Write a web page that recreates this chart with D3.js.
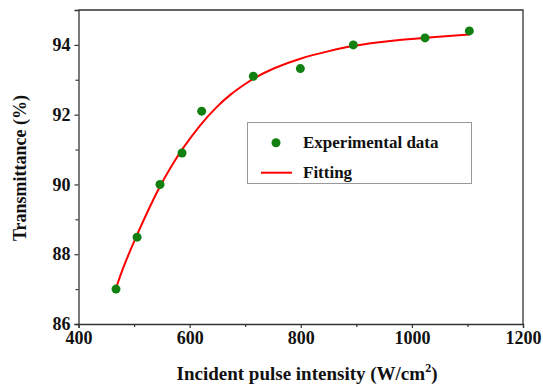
<!DOCTYPE html>
<html>
<head>
<meta charset="utf-8">
<script src="https://cdn.jsdelivr.net/npm/d3@7"></script>
<style>
  html, body { margin: 0; padding: 0; background: #fff; }
  svg { display: block; }
  svg text { font-family: "Liberation Serif", "Times New Roman", serif !important; font-weight: bold; fill: #111; }
</style>
</head>
<body>
<div id="chart"></div>
<script>
// Experimental data points
const expX = [467.5, 505.5, 546.7, 586.3, 621.7, 714.7, 799.3, 894.6, 1023.7, 1103.4];
const expY = [87.0, 88.49, 90.0, 90.9, 92.1, 93.1, 93.32, 94.0, 94.2, 94.4];
// Fitted curve samples
const fitX = [467, 480, 505, 525, 547, 570, 586, 619, 650, 673, 700, 715, 750, 799, 850, 895, 950, 1024, 1104];
const fitY = [87.0, 87.62, 88.55, 89.25, 89.97, 90.6, 91.0, 91.72, 92.25, 92.58, 92.88, 93.04, 93.33, 93.62, 93.82, 93.98, 94.1, 94.21, 94.3];
// Axis ticks
const xTicks = [400, 600, 800, 1000, 1200];
const xMinor = [500, 700, 900, 1100];
const yTicks = [86, 88, 90, 92, 94];
const yMinor = [87, 89, 91, 93];
const legendLabels = ["Experimental data", "Fitting"];

const W = 543, H = 384;
const m = { left: 78.5, right: 20, top: 10, bottom: 60 };
const svg = d3.select("#chart").append("svg").attr("width", W).attr("height", H);

const x = d3.scaleLinear().domain([400, 1200]).range([m.left, W - m.right]);
const y = d3.scaleLinear().domain([86, 95]).range([H - m.bottom, m.top]);

const axisColor = "#333";
const serif = "'Liberation Serif', 'Times New Roman', serif";

// frame (top and right)
svg.append("path")
  .attr("d", `M${x(400)},${y(95)}H${x(1200)}V${y(86)}`)
  .attr("fill", "none").attr("stroke", axisColor).attr("stroke-width", 1.3);

// x axis
const gx = svg.append("g").attr("transform", `translate(0,${y(86)})`);
gx.call(d3.axisBottom(x).tickValues(xTicks).tickSize(4).tickPadding(3).tickFormat(d3.format("d")));
const gxm = gx.append("g").call(d3.axisBottom(x).tickValues(xMinor).tickSize(3).tickFormat(""));
gxm.select(".domain").remove();
gx.attr("font-family", serif).attr("font-size", 18);
gx.selectAll("path.domain").attr("stroke", axisColor).attr("stroke-width", 1.3);
gx.selectAll(".tick line").attr("stroke", axisColor).attr("stroke-width", 1.2);
gx.selectAll(".tick text").style("font-family", serif).style("font-weight", "bold")
  .style("font-size", "18px").attr("fill", "#111");

// y axis
const gy = svg.append("g").attr("transform", `translate(${x(400)},0)`);
gy.call(d3.axisLeft(y).tickValues(yTicks).tickSize(4).tickPadding(4).tickFormat(d3.format("d")));
const gym = gy.append("g").call(d3.axisLeft(y).tickValues(yMinor).tickSize(3).tickFormat(""));
gym.select(".domain").remove();
gy.attr("font-family", serif).attr("font-size", 18);
gy.selectAll("path.domain").attr("stroke", axisColor).attr("stroke-width", 1.3);
gy.selectAll(".tick line").attr("stroke", axisColor).attr("stroke-width", 1.2);
gy.selectAll(".tick text").style("font-family", serif).style("font-weight", "bold")
  .style("font-size", "18px").attr("fill", "#111");

// axis labels
const xl = svg.append("text")
  .attr("x", 307).attr("y", 380)
  .attr("text-anchor", "middle").attr("font-size", 19);
xl.append("tspan").text("Incident pulse intensity (W/cm");
xl.append("tspan").attr("font-size", 12).attr("dy", -8).text("2");
xl.append("tspan").attr("dy", 8).text(")");

svg.append("text")
  .attr("transform", `translate(26,${(m.top + H - m.bottom) / 2 + 1}) rotate(-90)`)
  .attr("text-anchor", "middle").attr("font-size", 18)
  .text("Transmittance (%)");

// fitted line
const fit = fitX.map((d, i) => [d, fitY[i]]);
svg.append("path")
  .datum(fit)
  .attr("fill", "none").attr("stroke", "#ff0000").attr("stroke-width", 2)
  .attr("d", d3.line().x(d => x(d[0])).y(d => y(d[1])).curve(d3.curveBasis));

// points
const pts = expX.map((d, i) => [d, expY[i]]);
svg.append("g").selectAll("circle").data(pts).join("circle")
  .attr("cx", d => x(d[0])).attr("cy", d => y(d[1])).attr("r", 4.5)
  .attr("fill", "#118011");

// legend
const lg = svg.append("g");
lg.append("rect").attr("x", 247.5).attr("y", 122.5).attr("width", 224).attr("height", 61)
  .attr("fill", "#fff").attr("stroke", "#999").attr("stroke-width", 1);
lg.append("circle").attr("cx", 276).attr("cy", 142.7).attr("r", 4.5).attr("fill", "#118011");
lg.append("text").attr("x", 303).attr("y", 147.5).attr("font-size", 17).text(legendLabels[0]);
lg.append("line").attr("x1", 261).attr("x2", 292).attr("y1", 172.7).attr("y2", 172.7)
  .attr("stroke", "#ff0000").attr("stroke-width", 2);
lg.append("text").attr("x", 303).attr("y", 177.5).attr("font-size", 17).text(legendLabels[1]);
</script>
</body>
</html>
